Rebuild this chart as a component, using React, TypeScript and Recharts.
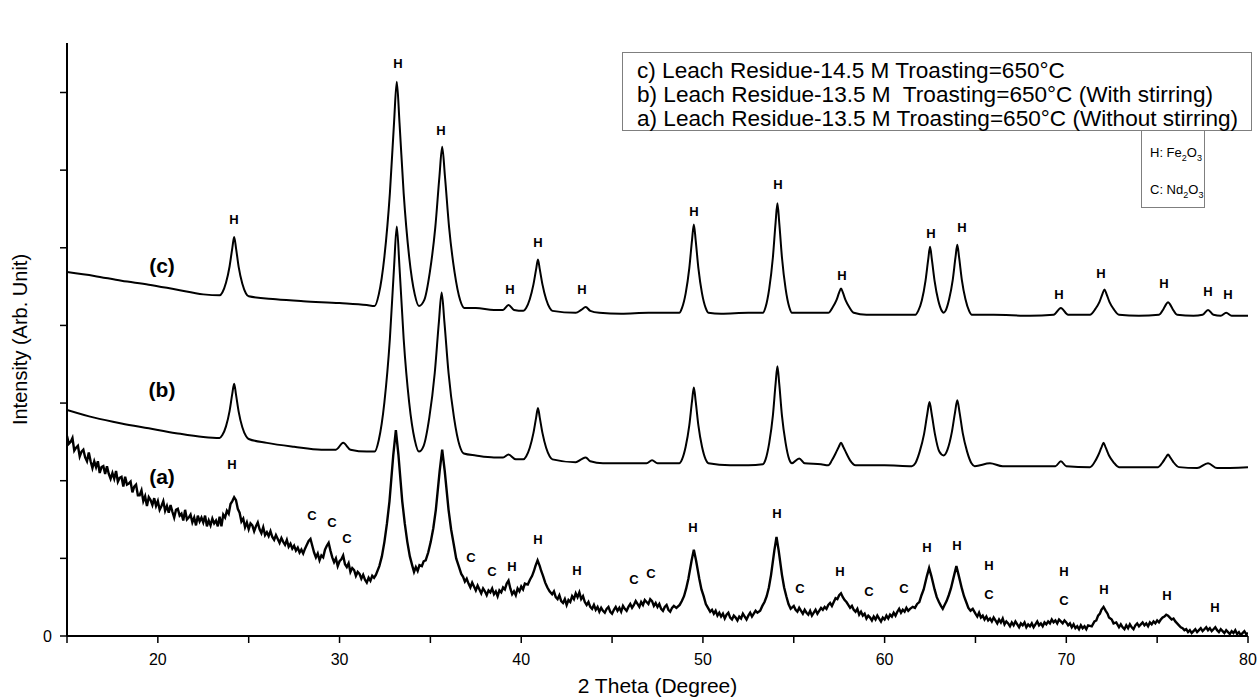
import { ComposedChart, Line, Scatter, XAxis, YAxis } from "recharts";

const FONT = '"Liberation Sans", Arial, sans-serif';

// 2θ (degree), intensity (arb. unit, one minor tick = 80)
const traceC: [number, number][] = [
  [15.0, 375], [16.5, 371], [18.0, 366], [19.5, 362], [21.0, 357], [22.5, 352], [23.4, 351],
  [23.55, 354], [23.75, 364], [23.95, 381], [24.1, 400], [24.2, 411], [24.3, 400], [24.45, 380],
  [24.65, 363], [24.85, 353], [25.0, 350], [26.5, 347], [28.0, 345], [30.0, 343], [31.5, 341],
  [31.93, 340], [32.16, 352], [32.47, 391], [32.77, 456], [33.0, 529], [33.15, 571], [33.3, 529],
  [33.53, 456], [33.83, 391], [34.14, 352], [34.37, 340], [34.66, 346], [34.97, 375], [35.27, 421],
  [35.5, 474], [35.65, 504], [35.8, 474], [36.03, 421], [36.33, 375], [36.64, 346], [36.87, 338],
  [37.5, 338], [38.5, 336], [39.0, 336], [39.3, 341], [39.6, 336], [40.12, 335], [40.27, 338],
  [40.47, 347], [40.67, 362], [40.82, 378], [40.92, 388], [41.02, 378], [41.17, 362], [41.37, 347],
  [41.57, 338], [41.72, 335], [43.0, 333], [43.3, 336], [43.55, 339], [43.8, 335], [44.3, 333],
  [45.5, 332], [47.0, 333], [48.5, 333], [48.7, 333], [48.85, 338], [49.05, 353], [49.25, 379],
  [49.4, 408], [49.5, 424], [49.6, 408], [49.75, 379], [49.95, 353], [50.15, 338], [50.3, 333],
  [51.0, 332], [52.5, 333], [53.3, 333], [53.45, 339], [53.65, 358], [53.85, 390], [54.0, 426],
  [54.1, 446], [54.2, 426], [54.35, 390], [54.55, 358], [54.75, 339], [54.9, 333], [56.0, 333],
  [56.9, 333], [57.15, 339], [57.35, 346], [57.5, 354], [57.6, 358], [57.7, 354], [57.85, 346],
  [58.05, 339], [58.3, 333], [59.0, 331], [61.0, 331], [61.7, 331], [61.85, 335], [62.05, 346],
  [62.25, 366], [62.4, 388], [62.5, 401], [62.6, 388], [62.75, 366], [62.95, 346], [63.15, 335],
  [63.25, 333], [63.35, 335], [63.55, 347], [63.75, 367], [63.9, 390], [64.0, 403], [64.1, 390],
  [64.25, 367], [64.45, 347], [64.65, 335], [64.8, 331], [66.0, 331], [68.0, 330], [69.3, 331],
  [69.7, 338], [70.1, 331], [71.3, 331], [71.6, 337], [71.82, 344], [71.98, 352], [72.1, 357],
  [72.22, 352], [72.38, 344], [72.6, 337], [72.9, 331], [74.0, 330], [75.1, 331], [75.35, 337],
  [75.5, 342], [75.6, 344], [75.7, 342], [75.85, 337], [76.1, 331], [77.0, 330], [77.5, 331],
  [77.8, 336], [78.1, 331], [78.5, 330], [78.8, 333], [79.1, 330], [80.0, 330],
];

const traceB: [number, number][] = [
  [15.0, 233], [16.5, 225], [18.0, 219], [19.5, 214], [21.0, 209], [22.5, 205], [23.4, 204],
  [23.55, 207], [23.75, 216], [23.95, 232], [24.1, 250], [24.2, 260], [24.3, 249], [24.45, 231],
  [24.65, 215], [24.85, 206], [25.0, 203], [26.0, 199], [27.5, 195], [29.0, 192], [29.8, 192],
  [30.2, 199], [30.6, 192], [31.5, 190], [31.93, 190], [32.16, 202], [32.47, 241], [32.77, 306],
  [33.0, 380], [33.15, 422], [33.3, 380], [33.53, 306], [33.83, 241], [34.14, 202], [34.37, 190],
  [34.63, 196], [34.94, 225], [35.24, 271], [35.47, 324], [35.62, 354], [35.77, 324], [36.0, 271],
  [36.3, 225], [36.61, 196], [36.84, 188], [37.5, 186], [38.5, 184], [39.0, 184], [39.3, 187],
  [39.7, 182], [40.12, 182], [40.27, 185], [40.47, 194], [40.67, 209], [40.82, 225], [40.92, 235],
  [41.02, 225], [41.17, 209], [41.37, 194], [41.57, 185], [41.72, 182], [43.0, 179], [43.3, 182],
  [43.55, 184], [43.8, 180], [44.5, 178], [46.0, 178], [46.9, 178], [47.2, 181], [47.5, 178],
  [48.5, 178], [48.7, 178], [48.85, 182], [49.05, 195], [49.25, 217], [49.4, 242], [49.5, 256],
  [49.6, 242], [49.75, 217], [49.95, 195], [50.15, 182], [50.3, 178], [51.5, 176], [52.5, 176],
  [53.3, 177], [53.45, 182], [53.65, 199], [53.85, 227], [54.0, 260], [54.1, 278], [54.2, 260],
  [54.35, 227], [54.55, 199], [54.75, 182], [54.9, 178], [55.3, 183], [55.6, 178], [56.5, 177],
  [56.9, 176], [57.1, 181], [57.3, 188], [57.48, 195], [57.6, 199], [57.72, 195], [57.9, 188],
  [58.1, 181], [58.4, 176], [60.0, 176], [61.5, 175], [61.69, 178], [61.93, 190], [62.17, 208],
  [62.35, 229], [62.47, 241], [62.59, 229], [62.77, 208], [63.01, 190], [63.25, 186], [63.46, 192],
  [63.7, 210], [63.88, 231], [64.0, 243], [64.12, 231], [64.3, 209], [64.54, 190], [64.78, 178],
  [64.96, 175], [65.8, 178], [66.5, 175], [68.5, 175], [69.4, 175], [69.7, 180], [70.0, 175],
  [71.3, 174], [71.55, 179], [71.75, 186], [71.93, 194], [72.05, 199], [72.17, 194], [72.35, 186],
  [72.6, 179], [72.9, 174], [74.5, 174], [75.05, 174], [75.3, 179], [75.48, 184], [75.6, 187],
  [75.72, 184], [75.9, 179], [76.2, 174], [77.2, 173], [77.8, 178], [78.3, 173], [80.0, 174],
];

const traceA: [number, number][] = [
  [15.0, 206], [15.1, 198], [15.2, 200], [15.3, 204], [15.4, 191], [15.5, 194], [15.6, 196], [15.7, 185], [15.8, 190], [15.9, 192],
  [16.0, 184], [16.1, 180], [16.2, 189], [16.3, 180], [16.4, 173], [16.5, 180], [16.6, 174], [16.7, 180], [16.8, 168], [16.9, 174],
  [17.0, 175], [17.1, 167], [17.2, 175], [17.3, 167], [17.4, 162], [17.5, 168], [17.6, 162], [17.7, 170], [17.8, 159], [17.9, 163],
  [18.0, 164], [18.1, 154], [18.2, 164], [18.3, 156], [18.4, 157], [18.5, 159], [18.6, 148], [18.7, 154], [18.8, 156], [18.9, 145],
  [19.0, 145], [19.1, 150], [19.2, 139], [19.3, 144], [19.4, 134], [19.5, 143], [19.6, 140], [19.7, 135], [19.8, 142], [19.9, 134],
  [20.0, 139], [20.1, 130], [20.2, 134], [20.3, 139], [20.4, 129], [20.5, 134], [20.6, 127], [20.7, 135], [20.8, 128], [20.9, 122],
  [21.0, 130], [21.1, 131], [21.2, 124], [21.3, 126], [21.4, 119], [21.5, 130], [21.6, 120], [21.7, 122], [21.8, 125], [21.9, 117],
  [22.0, 122], [22.1, 114], [22.2, 124], [22.3, 118], [22.4, 122], [22.5, 117], [22.6, 124], [22.7, 113], [22.8, 119], [22.9, 114],
  [23.0, 121], [23.1, 116], [23.2, 119], [23.3, 113], [23.4, 123], [23.5, 113], [23.6, 125],
  [23.7, 122], [23.8, 129], [23.9, 126], [24.0, 136], [24.1, 139], [24.2, 143], [24.3, 140], [24.4, 131], [24.5, 127], [24.6, 118],
  [24.7, 121], [24.8, 112], [24.9, 117],
  [25.0, 110], [25.1, 116], [25.2, 114], [25.3, 108], [25.4, 113], [25.5, 117], [25.6, 110], [25.7, 106], [25.8, 112], [25.9, 104],
  [26.0, 107], [26.1, 103], [26.2, 108], [26.3, 102], [26.4, 99], [26.5, 104], [26.6, 100], [26.7, 96], [26.8, 101], [26.9, 97],
  [27.0, 94], [27.1, 99], [27.2, 92], [27.3, 95], [27.4, 90], [27.5, 93], [27.6, 88], [27.7, 91], [27.8, 86], [27.9, 89],
  [28.0, 85], [28.1, 90], [28.2, 94], [28.3, 98], [28.4, 100], [28.5, 93], [28.6, 86], [28.7, 81], [28.8, 85], [28.9, 78],
  [29.0, 83], [29.1, 81], [29.2, 89], [29.3, 93], [29.4, 96], [29.5, 88], [29.6, 81], [29.7, 76], [29.8, 80], [29.9, 72],
  [30.0, 77], [30.1, 79], [30.2, 83], [30.3, 74], [30.4, 71], [30.5, 75], [30.6, 66], [30.7, 70], [30.8, 68], [30.9, 62],
  [31.0, 66], [31.1, 64], [31.2, 59], [31.3, 63], [31.4, 58], [31.5, 55], [31.6, 60], [31.7, 57], [31.8, 62], [31.9, 60],
  [32.0, 63], [32.19, 72], [32.33, 82], [32.47, 97], [32.61, 116], [32.75, 139], [32.96, 187], [33.1, 212], [33.24, 187],
  [33.45, 139], [33.59, 116], [33.73, 97], [33.87, 82], [34.01, 72], [34.1, 66], [34.2, 71], [34.3, 67], [34.4, 73],
  [34.53, 72], [34.63, 77], [34.74, 78], [34.88, 86], [35.02, 97], [35.16, 111], [35.3, 130], [35.51, 170], [35.65, 192],
  [35.79, 170], [36.0, 130], [36.14, 110], [36.28, 95], [36.42, 80], [36.56, 72], [36.7, 64],
  [36.8, 61], [36.9, 56], [37.0, 59], [37.1, 54], [37.2, 50], [37.3, 55], [37.4, 51], [37.5, 47], [37.6, 52], [37.7, 48],
  [37.8, 44], [37.9, 49], [38.0, 46], [38.1, 42], [38.2, 47], [38.3, 45], [38.4, 49], [38.5, 43], [38.6, 46], [38.7, 41],
  [38.8, 47], [38.9, 45], [39.0, 50], [39.1, 48], [39.2, 54], [39.3, 57], [39.4, 49], [39.5, 43], [39.6, 46], [39.7, 42],
  [39.8, 49], [39.9, 46], [40.0, 51], [40.1, 48],
  [40.2, 54], [40.36, 53], [40.48, 58], [40.6, 62], [40.7, 67], [40.78, 72], [40.9, 78], [41.02, 72], [41.1, 67], [41.2, 62],
  [41.32, 55], [41.44, 50], [41.56, 46],
  [41.7, 43], [41.8, 46], [41.9, 40], [42.0, 38], [42.1, 42], [42.2, 36], [42.3, 34], [42.4, 38], [42.5, 32], [42.6, 37],
  [42.7, 35], [42.8, 41], [42.9, 38], [43.0, 44], [43.1, 40], [43.2, 45], [43.3, 38], [43.4, 41], [43.5, 35], [43.6, 32],
  [43.7, 35], [43.8, 30], [43.9, 28], [44.0, 32], [44.1, 27], [44.2, 30], [44.3, 25], [44.4, 29], [44.5, 26], [44.6, 24],
  [44.7, 28], [44.8, 30], [44.9, 25], [45.0, 23], [45.1, 27], [45.2, 30], [45.3, 26], [45.4, 29], [45.5, 25], [45.6, 31],
  [45.7, 28], [45.8, 26], [45.9, 30], [46.0, 33], [46.1, 29], [46.2, 32], [46.3, 36], [46.4, 33], [46.5, 30], [46.6, 35],
  [46.7, 32], [46.8, 37], [46.9, 35], [47.0, 33], [47.1, 38], [47.2, 36], [47.3, 31], [47.4, 34], [47.5, 30], [47.6, 33],
  [47.7, 28], [47.8, 26], [47.9, 30], [48.0, 32], [48.1, 27], [48.2, 25], [48.3, 29], [48.4, 31],
  [48.54, 29], [48.72, 32], [48.84, 36], [48.96, 41], [49.08, 49], [49.2, 59], [49.38, 78], [49.5, 89], [49.62, 78], [49.8, 59],
  [49.92, 48], [50.04, 41], [50.16, 33], [50.28, 29], [50.4, 25],
  [50.5, 27], [50.6, 23], [50.7, 26], [50.8, 21], [50.9, 24], [51.0, 20], [51.1, 23], [51.2, 18], [51.3, 22], [51.4, 24],
  [51.5, 19], [51.6, 17], [51.7, 21], [51.8, 19], [51.9, 16], [52.0, 20], [52.1, 18], [52.2, 23], [52.3, 20], [52.4, 17],
  [52.5, 21], [52.6, 24], [52.7, 20], [52.8, 23], [52.9, 26], [53.0, 24],
  [53.15, 26], [53.27, 31], [53.39, 35], [53.51, 41], [53.63, 50], [53.75, 63], [53.93, 88], [54.05, 102], [54.17, 88],
  [54.35, 63], [54.47, 50], [54.59, 41], [54.71, 33], [54.83, 28],
  [55.0, 31], [55.1, 27], [55.2, 25], [55.3, 29], [55.4, 26], [55.5, 23], [55.6, 27], [55.7, 24], [55.8, 22], [55.9, 26],
  [56.0, 21], [56.1, 24], [56.2, 27], [56.3, 23], [56.4, 26], [56.5, 29], [56.6, 27], [56.7, 30], [56.8, 28], [56.9, 32],
  [57.0, 34], [57.1, 31], [57.2, 35], [57.3, 39], [57.4, 38], [57.5, 42], [57.6, 44], [57.7, 40], [57.8, 37], [57.9, 35],
  [58.0, 32], [58.1, 29], [58.2, 31], [58.3, 27], [58.4, 25], [58.5, 28], [58.6, 22], [58.7, 25], [58.8, 21], [58.9, 23],
  [59.0, 18], [59.1, 21], [59.2, 19], [59.3, 16], [59.4, 20], [59.5, 17], [59.6, 21], [59.7, 18], [59.8, 15], [59.9, 19],
  [60.0, 17], [60.1, 21], [60.2, 18], [60.3, 22], [60.4, 20], [60.5, 24], [60.6, 21], [60.7, 25], [60.8, 28], [60.9, 24],
  [61.0, 27], [61.1, 25], [61.2, 29], [61.3, 26], [61.4, 28],
  [61.55, 30], [61.67, 29], [61.79, 33], [61.91, 35], [62.03, 42], [62.15, 48], [62.33, 62], [62.45, 70], [62.57, 62],
  [62.75, 48], [62.87, 40], [62.99, 35], [63.1, 31], [63.2, 28], [63.3, 32], [63.41, 36], [63.53, 42], [63.65, 49],
  [63.83, 63], [63.95, 72], [64.07, 63], [64.25, 49], [64.37, 41], [64.49, 35], [64.61, 29], [64.73, 26], [64.85, 28],
  [65.0, 23], [65.1, 20], [65.2, 24], [65.3, 19], [65.4, 21], [65.5, 17], [65.6, 20], [65.7, 16], [65.8, 18], [65.9, 15],
  [66.0, 19], [66.1, 16], [66.2, 13], [66.3, 17], [66.4, 14], [66.5, 18], [66.6, 12], [66.7, 15], [66.8, 13], [66.9, 10],
  [67.0, 14], [67.1, 11], [67.2, 15], [67.3, 12], [67.4, 9], [67.5, 13], [67.6, 11], [67.7, 14], [67.8, 9], [67.9, 12],
  [68.0, 10], [68.1, 13], [68.2, 9], [68.3, 12], [68.4, 15], [68.5, 11], [68.6, 13], [68.7, 10], [68.8, 14], [68.9, 12],
  [69.0, 15], [69.1, 13], [69.2, 17], [69.3, 14], [69.4, 16], [69.5, 13], [69.6, 17], [69.7, 15], [69.8, 13], [69.9, 16],
  [70.0, 14], [70.1, 11], [70.2, 13], [70.3, 9], [70.4, 12], [70.5, 8], [70.6, 10], [70.7, 7], [70.8, 11], [70.9, 8],
  [71.0, 10], [71.1, 7], [71.2, 11],
  [71.4, 10], [71.55, 15], [71.65, 16], [71.75, 21], [71.85, 23], [71.93, 27], [72.05, 30], [72.17, 26], [72.27, 23],
  [72.35, 19], [72.5, 17], [72.6, 13], [72.75, 14], [72.9, 9],
  [73.0, 12], [73.1, 9], [73.2, 7], [73.3, 11], [73.4, 8], [73.5, 12], [73.6, 9], [73.7, 7], [73.8, 11], [73.9, 13],
  [74.0, 10], [74.1, 12], [74.2, 14], [74.3, 11], [74.4, 13], [74.5, 10], [74.6, 14], [74.7, 12], [74.8, 15], [74.9, 13],
  [75.0, 16], [75.1, 14], [75.2, 17], [75.3, 19], [75.4, 20], [75.5, 22], [75.6, 21], [75.7, 19], [75.8, 17], [75.9, 18],
  [76.0, 15], [76.1, 13], [76.2, 11], [76.3, 9], [76.4, 8], [76.5, 6], [76.6, 7], [76.7, 4], [76.8, 6], [76.9, 3],
  [77.0, 5], [77.1, 7], [77.2, 4], [77.3, 6], [77.4, 8], [77.5, 5], [77.6, 7], [77.7, 9], [77.8, 6], [77.9, 8],
  [78.0, 5], [78.1, 7], [78.2, 9], [78.3, 6], [78.4, 4], [78.5, 7], [78.6, 5], [78.7, 3], [78.8, 6], [78.9, 4],
  [79.0, 2], [79.1, 5], [79.2, 3], [79.3, 6], [79.4, 2], [79.5, 4], [79.6, 1], [79.7, 3], [79.8, 5], [79.9, 2], [80.0, 3],
];

// phase marks: [2θ, intensity, letter]
const phaseMarks: [number, number, string][] = [
  // above pattern (c)
  [24.19, 429, "H"], [33.22, 590, "H"], [35.58, 521, "H"], [39.38, 357, "H"], [40.92, 405, "H"],
  [43.34, 357, "H"], [49.51, 437, "H"], [54.13, 465, "H"], [57.65, 371, "H"], [62.55, 415, "H"],
  [64.26, 421, "H"], [69.6, 352, "H"], [71.91, 374, "H"], [75.37, 363, "H"], [77.8, 355, "H"],
  [78.9, 352, "H"],
  // above pattern (a)
  [24.08, 177, "H"], [28.48, 124, "C"], [29.58, 117, "C"], [30.41, 100, "C"], [37.23, 81, "C"],
  [38.39, 66, "C"], [39.49, 72, "H"], [40.92, 99, "H"], [43.07, 68, "H"], [46.2, 58, "C"],
  [47.14, 64, "C"], [49.45, 112, "H"], [54.08, 126, "H"], [55.34, 49, "C"], [57.54, 66, "H"],
  [59.14, 46, "C"], [61.07, 49, "C"], [62.33, 91, "H"], [63.98, 93, "H"], [65.74, 73, "H"],
  [65.74, 43, "C"], [69.87, 66, "H"], [69.87, 37, "C"], [72.07, 48, "H"], [75.54, 42, "H"],
  [78.18, 29, "H"],
];

const curveNames: [number, number, string][] = [
  [20.23, 382, "(c)"],
  [20.23, 254, "(b)"],
  [20.23, 164, "(a)"],
];

const angleTicks = [15, 20, 25, 30, 35, 40, 45, 50, 55, 60, 65, 70, 75, 80];
const intensityTicks = [0, 80, 160, 240, 320, 400, 480, 560];

const legendLines = [
  "c) Leach Residue-14.5 M Troasting=650°C",
  "b) Leach Residue-13.5 M  Troasting=650°C (With stirring)",
  "a) Leach Residue-13.5 M Troasting=650°C (Without stirring)",
];

const toPoints = (t: [number, number][]) => t.map(([x, y]) => ({ x, y }));
const toMarks = (t: [number, number, string][]) => t.map(([x, y, s]) => ({ x, y, s }));

function MarkText(props: any) {
  const { cx, cy, payload } = props;
  return (
    <text x={cx} y={cy} textAnchor="middle" dominantBaseline="central" fontSize={13} fontWeight="bold" fontFamily={FONT} fill="#000">
      {payload.s}
    </text>
  );
}

function NameText(props: any) {
  const { cx, cy, payload } = props;
  return (
    <text x={cx} y={cy} textAnchor="middle" dominantBaseline="central" fontSize={21} fontWeight="bold" fontFamily={FONT} fill="#000">
      {payload.s}
    </text>
  );
}

const axisLine = { stroke: "#000", strokeWidth: 2 };
const tickLine = { stroke: "#000", strokeWidth: 1.5 };
const tickStyle = { fill: "#000", fontSize: 16, fontFamily: FONT };

export default function App() {
  return (
    <div style={{ position: "relative", width: 1258, height: 699, background: "#fff", fontFamily: FONT }}>
      <style>{`body{margin:0}`}</style>
      <ComposedChart width={1258} height={699} margin={{ top: 43, right: 10, bottom: 0, left: 7 }}>
        <XAxis
          type="number"
          dataKey="x"
          domain={[15, 80]}
          ticks={angleTicks}
          interval={0}
          allowDataOverflow
          height={63}
          axisLine={axisLine}
          tickLine={tickLine}
          tickSize={7}
          tickMargin={11}
          tick={tickStyle}
          tickFormatter={(v) => (v % 10 === 0 ? String(v) : "")}
          label={{ value: "2 Theta (Degree)", position: "insideBottom", offset: 6, fontSize: 21, fill: "#000", fontFamily: FONT }}
        />
        <YAxis
          type="number"
          dataKey="y"
          domain={[0, 611]}
          ticks={intensityTicks}
          interval={0}
          allowDataOverflow
          width={60}
          axisLine={axisLine}
          tickLine={tickLine}
          tickSize={7}
          tickMargin={8}
          tick={tickStyle}
          tickFormatter={(v) => (v === 0 ? "0" : "")}
          label={{
            value: "Intensity (Arb. Unit)",
            angle: -90,
            position: "insideLeft",
            offset: 13,
            fontSize: 20,
            fill: "#000",
            fontFamily: FONT,
            style: { textAnchor: "middle" },
          }}
        />
        <Line data={toPoints(traceC)} dataKey="y" type="monotone" stroke="#000" strokeWidth={2} dot={false} isAnimationActive={false} />
        <Line data={toPoints(traceB)} dataKey="y" type="monotone" stroke="#000" strokeWidth={2} dot={false} isAnimationActive={false} />
        <Line data={toPoints(traceA)} dataKey="y" type="linear" stroke="#000" strokeWidth={2.4} dot={false} isAnimationActive={false} />
        <Scatter data={toMarks(phaseMarks)} dataKey="y" shape={MarkText} isAnimationActive={false} />
        <Scatter data={toMarks(curveNames)} dataKey="y" shape={NameText} isAnimationActive={false} />
      </ComposedChart>

      <div
        style={{
          position: "absolute",
          left: 622,
          top: 52,
          width: 630,
          height: 79,
          border: "1px solid #7f7f7f",
          boxSizing: "border-box",
          padding: "6px 0 0 14px",
          fontSize: 22.6,
          lineHeight: "24px",
          color: "#000",
          background: "#fff",
          whiteSpace: "nowrap",
        }}
      >
        {legendLines.map((l) => (
          <div key={l} style={{ whiteSpace: "pre" }}>{l}</div>
        ))}
      </div>
      <div
        style={{
          position: "absolute",
          left: 1141,
          top: 130,
          width: 64,
          height: 78,
          border: "1px solid #7f7f7f",
          boxSizing: "border-box",
          padding: "3px 0 0 8px",
          fontSize: 13,
          lineHeight: "37px",
          color: "#000",
          background: "#fff",
          whiteSpace: "nowrap",
        }}
      >
        <div>H: Fe<sub style={{ fontSize: 9, lineHeight: 0 }}>2</sub>O<sub style={{ fontSize: 9, lineHeight: 0 }}>3</sub></div>
        <div>C: Nd<sub style={{ fontSize: 9, lineHeight: 0 }}>2</sub>O<sub style={{ fontSize: 9, lineHeight: 0 }}>3</sub></div>
      </div>
    </div>
  );
}
